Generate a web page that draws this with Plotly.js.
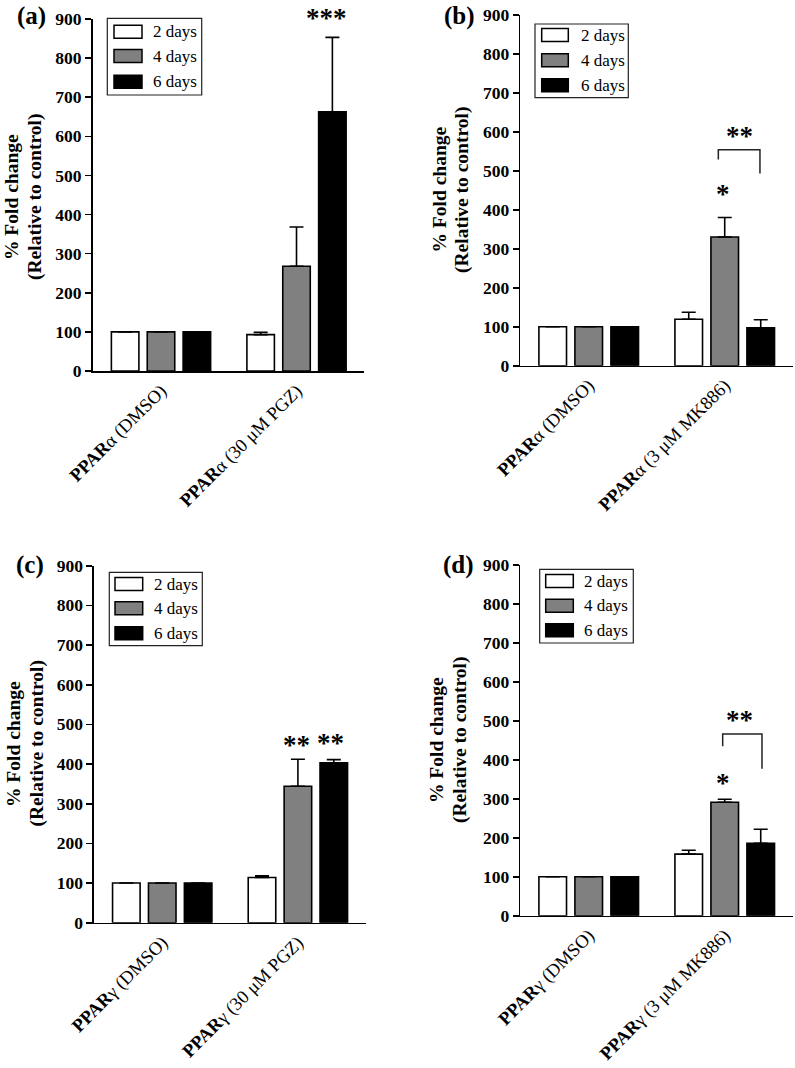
<!DOCTYPE html>
<html>
<head>
<meta charset="utf-8">
<script src="https://cdn.plot.ly/plotly-3.0.1.min.js"></script>
<style>
  html, body { margin: 0; padding: 0; background: #fff; }
  #chart { width: 795px; height: 1068px; }
</style>
</head>
<body>
<div id="chart"></div>
<script>
// ---------------- DATA ----------------
const seriesNames = ['2 days', '4 days', '6 days'];
const seriesColors = ['#ffffff', '#808080', '#000000'];

// Panel (a) PPARα, PGZ
const catsA = ['PPARα (DMSO)', 'PPARα (30 μM PGZ)'];
const a2days = [100, 93];   const a2err = [0, 6];
const a4days = [100, 268];  const a4err = [0, 100];
const a6days = [100, 663];  const a6err = [0, 190];

// Panel (b) PPARα, MK886
const catsB = ['PPARα (DMSO)', 'PPARα (3 μM MK886)'];
const b2days = [100, 119];  const b2err = [0, 18];
const b4days = [100, 330];  const b4err = [0, 50];
const b6days = [100, 97];   const b6err = [0, 21];

// Panel (c) PPARγ, PGZ
const catsC = ['PPARγ (DMSO)', 'PPARγ (30 μM PGZ)'];
const c2days = [100, 114];  const c2err = [0, 4];
const c4days = [100, 344];  const c4err = [0, 68];
const c6days = [100, 403];  const c6err = [0, 8];

// Panel (d) PPARγ, MK886
const catsD = ['PPARγ (DMSO)', 'PPARγ (3 μM MK886)'];
const d2days = [100, 158];  const d2err = [0, 10];
const d4days = [100, 291];  const d4err = [0, 8];
const d6days = [100, 186];  const d6err = [0, 36];

const panelLabels = ['(a)', '(b)', '(c)', '(d)'];
const yTitleLines = ['% Fold change', '(Relative to control)'];
const yTicks = [0, 100, 200, 300, 400, 500, 600, 700, 800, 900];

// ---------------- LAYOUT HELPERS ----------------
const W = 795, H = 1068;
const px = x => x / W;
const py = y => 1 - y / H;
const FONT = 'Liberation Serif';

function fmtCat(s) {
  return s.replace(/^PPAR/, '<b>PPAR</b>');
}

const panels = [
  { id: '', cats: catsA, vals: [a2days, a4days, a6days], errs: [a2err, a4err, a6err],
    xdom: [92.7, 364], ydom: [371, 19], xr: [-0.504, 1.498],
    label: { x: 31, y: 16 }, ytitle: { x: [12, 35], y: 197 },
    legend: { box: [107.3, 18.3, 201.7, 95], sw: [114, 142], rows: [31.7, 56, 81.7], tx: 150.5 },
    stars: [{ t: '***', x: 1.218, y: 900, shift: 1 }],
    bracket: null },
  { id: '2', cats: catsB, vals: [b2days, b4days, b6days], errs: [b2err, b4err, b6err],
    xdom: [520.3, 793], ydom: [365.7, 14.7], xr: [-0.503, 1.502],
    label: { x: 459, y: 16 }, ytitle: { x: [438.5, 462], y: 190 },
    legend: { box: [535, 24, 628.3, 97.7], sw: [541.7, 568.3], rows: [35, 60.3, 85.3], tx: 579 },
    stars: [{ t: '**', x: 1.105, y: 590, shift: 0 }, { t: '*', x: 0.985, y: 439, shift: 0 }],
    bracket: { x0: 0.953, x1: 1.259, top: 554, l: 529, r: 493 } },
  { id: '3', cats: catsC, vals: [c2days, c4days, c6days], errs: [c2err, c4err, c6err],
    xdom: [94, 366], ydom: [922.7, 565.7], xr: [-0.503, 1.502],
    label: { x: 30, y: 565 }, ytitle: { x: [13, 36.5], y: 744 },
    legend: { box: [109.3, 572.3, 202.3, 645.7], sw: [115, 142.7], rows: [584, 608.3, 633.3], tx: 152 },
    stars: [{ t: '**', x: 0.99, y: 447, shift: 0 }, { t: '**', x: 1.24, y: 453, shift: 0 }],
    bracket: null },
  { id: '4', cats: catsD, vals: [d2days, d4days, d6days], errs: [d2err, d4err, d6err],
    xdom: [520.3, 793], ydom: [915.7, 565], xr: [-0.503, 1.502],
    label: { x: 458, y: 565 }, ytitle: { x: [436, 460], y: 740 },
    legend: { box: [539.7, 569.3, 633.3, 643], sw: [545.7, 573.3], rows: [581, 605.7, 630.3], tx: 582 },
    stars: [{ t: '**', x: 1.105, y: 502, shift: 0 }, { t: '*', x: 0.99, y: 341, shift: 0 }],
    bracket: { x0: 0.985, x1: 1.274, top: 466, l: 435, r: 377 } }
];

const traces = [];
const layout = {
  width: W, height: H,
  margin: { l: 0, r: 0, t: 0, b: 0 },
  paper_bgcolor: '#fff', plot_bgcolor: 'rgba(0,0,0,0)',
  showlegend: false,
  barmode: 'group',
  bargap: 0.206,
  bargroupgap: 0.233,
  font: { family: FONT, color: '#000' },
  shapes: [],
  annotations: []
};

panels.forEach((p, pi) => {
  const xa = 'x' + p.id, ya = 'y' + p.id;
  const xKey = 'xaxis' + p.id, yKey = 'yaxis' + p.id;
  for (let s = 0; s < 3; s++) {
    traces.push({
      type: 'bar',
      x: p.cats,
      y: p.vals[s],
      name: seriesNames[s],
      xaxis: xa, yaxis: ya,
      marker: { color: seriesColors[s], line: { color: '#000', width: 1.6 } },
      error_y: {
        type: 'data', symmetric: false,
        array: p.errs[s], arrayminus: p.errs[s].map(() => 0),
        color: '#000', thickness: 1.6, width: 7
      },
      hoverinfo: 'skip'
    });
  }
  layout[xKey] = {
    domain: [px(p.xdom[0]), px(p.xdom[1])],
    anchor: ya,
    type: 'category',
    range: p.xr,
    tickmode: 'array',
    tickvals: p.cats,
    ticktext: p.cats.map(fmtCat),
    tickangle: -45,
    ticks: '',
    tickfont: { family: FONT, size: 18.5, color: '#000' },
    showline: true, linecolor: '#000', linewidth: 1.6,
    showgrid: false, zeroline: false, fixedrange: true
  };
  layout[yKey] = {
    domain: [py(p.ydom[0]), py(p.ydom[1])],
    anchor: xa,
    range: [0, 900],
    tickmode: 'array',
    tickvals: yTicks,
    ticktext: yTicks.map(v => '<b>' + v + '</b>'),
    ticks: 'outside', ticklen: 6, tickwidth: 1.6, tickcolor: '#000',
    tickfont: { family: FONT, size: 17.5, color: '#000' },
    showline: true, linecolor: '#000', linewidth: 1.6,
    showgrid: false, zeroline: false, fixedrange: true
  };

  layout.annotations.push({
    xref: 'paper', yref: 'paper', x: px(p.label.x), y: py(p.label.y),
    xanchor: 'center', yanchor: 'middle', showarrow: false,
    text: '<b>' + panelLabels[pi] + '</b>',
    font: { family: FONT, size: 25, color: '#000' }
  });
  yTitleLines.forEach((t, li) => {
    layout.annotations.push({
      xref: 'paper', yref: 'paper', x: px(p.ytitle.x[li]), y: py(p.ytitle.y),
      xanchor: 'center', yanchor: 'middle', showarrow: false, textangle: -90,
      text: '<b>' + t + '</b>',
      font: { family: FONT, size: 19.5, color: '#000' }
    });
  });

  const L = p.legend;
  layout.shapes.push({
    type: 'rect', xref: 'paper', yref: 'paper',
    x0: px(L.box[0]), x1: px(L.box[2]), y0: py(L.box[3]), y1: py(L.box[1]),
    line: { color: '#222', width: 1.2 }, fillcolor: 'rgba(0,0,0,0)'
  });
  for (let s = 0; s < 3; s++) {
    layout.shapes.push({
      type: 'rect', xref: 'paper', yref: 'paper',
      x0: px(L.sw[0]), x1: px(L.sw[1]), y0: py(L.rows[s] + 6.5), y1: py(L.rows[s] - 6.5),
      line: { color: '#000', width: 1.5 }, fillcolor: seriesColors[s]
    });
    layout.annotations.push({
      xref: 'paper', yref: 'paper', x: px(L.tx), y: py(L.rows[s]),
      xanchor: 'left', yanchor: 'middle', showarrow: false,
      text: seriesNames[s],
      font: { family: FONT, size: 17, color: '#000' }
    });
  }

  p.stars.forEach(st => {
    layout.annotations.push({
      xref: xa, yref: ya, x: st.x, y: st.y, yshift: st.shift,
      xanchor: 'center', yanchor: 'middle', showarrow: false,
      text: '<b>' + st.t + '</b>',
      font: { family: FONT, size: 27, color: '#000' }
    });
  });

  if (p.bracket) {
    const b = p.bracket;
    layout.shapes.push({
      type: 'path', xref: xa, yref: ya,
      path: `M ${b.x0},${b.l} L ${b.x0},${b.top} L ${b.x1},${b.top} L ${b.x1},${b.r}`,
      line: { color: '#222', width: 1.5 }
    });
  }
});

Plotly.newPlot('chart', traces, layout, { staticPlot: true, displayModeBar: false });
</script>
</body>
</html>
